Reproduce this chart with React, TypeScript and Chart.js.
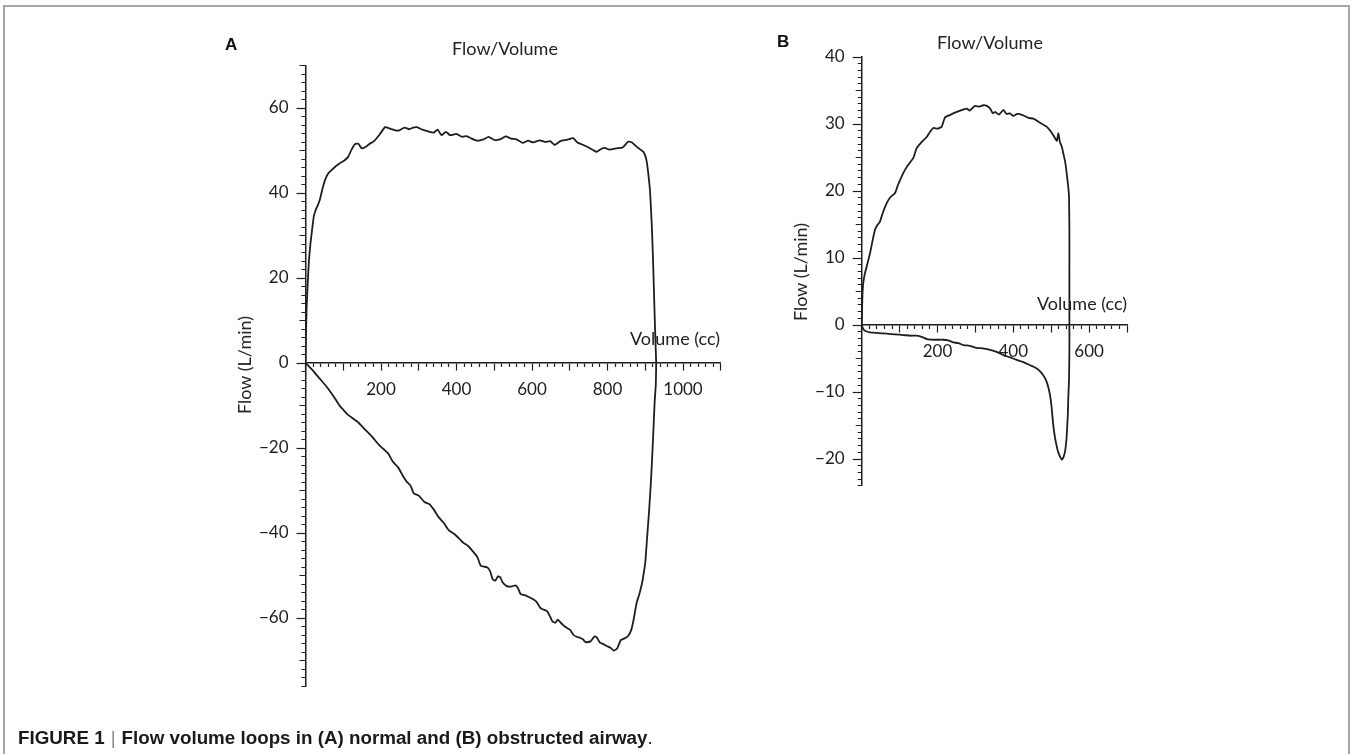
import React, { useEffect, useRef } from "react";
import { Chart, registerables } from "chart.js";

Chart.register(...registerables);

const FONT = "Lato, 'Open Sans', sans-serif";
const INK = "#1e1e1e";

// ---------- Panel A: normal airway ----------
const normalExpVolume = [0, 1, 3, 6, 9, 13, 17, 22, 27, 33, 38, 45, 52, 60, 69, 80, 91, 102, 113, 122, 131, 140, 149, 160, 170, 180, 195, 211, 225, 240, 250, 262, 275, 285, 295, 310, 325, 339, 350, 360, 372, 383, 400, 415, 427, 440, 455, 471, 485, 500, 515, 530, 545, 559, 575, 590, 603, 620, 635, 648, 660, 675, 692, 709, 720, 736, 750, 762, 771, 782, 793, 805, 824, 840, 855, 865, 877, 895, 903, 908, 913, 917, 920, 923, 926, 929];
const normalExpFlow = [0, 6, 13, 19, 24, 28, 31, 34.5, 36, 37.2, 38.4, 41, 43.1, 44.6, 45.4, 46.3, 47, 47.6, 48.5, 50.2, 51.5, 51.6, 50.5, 50.9, 51.6, 52.1, 53.6, 55.5, 55.1, 54.7, 54.8, 55.4, 55.0, 55.4, 55.5, 54.9, 54.5, 54.2, 54.9, 53.6, 54.4, 53.6, 53.9, 53.2, 53.4, 52.8, 52.3, 52.6, 53.2, 52.5, 52.6, 53.3, 52.8, 52.6, 51.8, 52.3, 51.9, 52.4, 52.0, 52.2, 51.3, 52.2, 52.5, 52.9, 51.9, 51.3, 50.7, 50.1, 49.7, 50.3, 50.6, 50.2, 50.5, 50.7, 52.1, 51.9, 50.9, 49.7, 47.8, 44.6, 40, 33, 26, 17, 8, 0];
const normalInspVolume = [929, 928, 925, 922, 919, 915, 910, 905, 900, 895, 891, 884, 877, 870, 863, 854, 845, 835, 826, 817, 808, 798, 790, 780, 772, 766, 755, 742, 735, 728, 718, 710, 701, 690, 682, 675, 668, 662, 654, 647, 640, 630, 622, 612, 603, 590, 580, 570, 563, 557, 545, 533, 522, 516, 510, 503, 496, 489, 482, 472, 464, 455, 445, 430, 418, 408, 395, 380, 366, 352, 340, 328, 315, 300, 287, 278, 268, 259, 245, 231, 220, 207, 194, 175, 157, 140, 125, 111, 100, 90, 74, 56, 37, 18, 0];
const normalInspFlow = [0, -5, -9, -15, -21, -28, -35, -41, -47, -50, -52, -54.5, -56.5, -60, -62.8, -64.3, -64.8, -65.2, -67.1, -67.7, -67.0, -66.6, -66.2, -65.8, -64.6, -64.3, -65.5, -65.7, -65.0, -64.7, -64.4, -64.0, -62.8, -62.2, -61.6, -61.0, -60.4, -61.1, -60.8, -59.5, -58.4, -58.0, -57.6, -56.2, -55.6, -55.0, -54.6, -54.4, -53.0, -52.3, -52.6, -52.5, -51.6, -50.4, -50.2, -51.2, -50.9, -49.0, -48.1, -47.9, -47.7, -45.6, -44.5, -43.0, -42.3, -41.4, -40.3, -39.4, -37.6, -36.2, -34.5, -33.2, -32.7, -31.2, -30.7, -28.8, -27.9, -26.7, -24.5, -23.2, -21.4, -20.3, -19.2, -17.2, -15.6, -14.0, -13.0, -12.1, -11.0, -10.0, -7.8, -5.6, -3.6, -1.6, 0];
const normalXLabels = [200, 400, 600, 800, 1000];
const normalYLabels = [60, 40, 20, 0, -20, -40, -60];

// ---------- Panel B: obstructed airway ----------
const obstructedExpVolume = [0, 1, 2, 4, 8, 13, 18, 22, 28, 35, 41, 48, 56, 66, 76, 88, 95, 101, 110, 119, 128, 136, 145, 158, 172, 180, 189, 200, 211, 220, 235, 251, 265, 277, 285, 299, 310, 321, 330, 339, 346, 352, 362, 374, 382, 391, 400, 410, 426, 440, 453, 470, 488, 500, 510, 515, 519, 523, 528, 532, 537, 541, 545, 547, 548, 548, 548, 548];
const obstructedExpFlow = [0, 2.5, 4.5, 6.2, 7.6, 8.7, 9.8, 10.7, 12.4, 14.2, 14.9, 15.4, 16.8, 18.2, 19.1, 19.7, 20.8, 21.6, 22.7, 23.6, 24.3, 24.9, 26.4, 27.3, 28.1, 28.8, 29.4, 29.3, 29.6, 31, 31.4, 31.8, 32.1, 32.3, 32.0, 32.7, 32.6, 32.8, 32.7, 32.3, 31.6, 31.8, 31.4, 32.1, 31.5, 31.6, 31.2, 31.5, 31.3, 30.9, 30.8, 30.2, 29.6, 28.8, 27.9, 27.5, 28.6, 27.3, 26.6, 25.6, 24.3, 22.6, 20.6, 19.1, 14.2, 8, 4, 0];
const obstructedInspVolume = [548, 548, 547, 545, 544, 541, 537, 532, 528, 523, 518, 515, 510, 506, 503, 501, 497, 492, 486, 479, 470, 462, 452, 444, 425, 409, 390, 374, 356, 339, 320, 303, 285, 268, 255, 242, 228, 215, 195, 172, 160, 145, 128, 110, 88, 66, 44, 22, 10, 4, 0];
const obstructedInspFlow = [0, -4, -8.2, -11, -13.2, -16.5, -18.7, -19.8, -20.1, -19.6, -18.9, -18.2, -16.8, -15.2, -13.5, -12.2, -10.5, -9.2, -8.2, -7.5, -6.9, -6.5, -6.2, -6.0, -5.5, -5.2, -4.8, -4.5, -4.0, -3.7, -3.5, -3.4, -3.1, -3.0, -2.7, -2.6, -2.3, -2.2, -2.2, -2.1, -1.8, -1.6, -1.6, -1.5, -1.4, -1.3, -1.2, -1.1, -0.9, -0.6, 0];
const obstructedXLabels = [200, 400, 600];
const obstructedYLabels = [40, 30, 20, 10, 0, -10, -20];

type Panel = {
  series: { label: string; x: number[]; y: number[] }[];
  xMax: number;
  xStep: number;
  xMajor: number;
  xLabels: number[];
  yMin: number;
  yMax: number;
  yStep: number;
  yMid: number;
  yMajor: number;
  yLabels: number[];
  axisWidth: number;
  padding: { left: number; top: number; right: number; bottom: number };
};

const panelA: Panel = {
  series: [
    { label: "Expiration", x: normalExpVolume, y: normalExpFlow },
    { label: "Inspiration", x: normalInspVolume, y: normalInspFlow },
  ],
  xMax: 1100,
  xStep: 20,
  xMajor: 100,
  xLabels: normalXLabels,
  yMin: -76,
  yMax: 70,
  yStep: 2,
  yMid: 10,
  yMajor: 20,
  yLabels: normalYLabels,
  axisWidth: 155.5,
  padding: { left: 0, top: 65.5, right: 49.25, bottom: 68 },
};

const panelB: Panel = {
  series: [
    { label: "Expiration", x: obstructedExpVolume, y: obstructedExpFlow },
    { label: "Inspiration", x: obstructedInspVolume, y: obstructedInspFlow },
  ],
  xMax: 700,
  xStep: 20,
  xMajor: 100,
  xLabels: obstructedXLabels,
  yMin: -24,
  yMax: 40,
  yStep: 1,
  yMid: 5,
  yMajor: 10,
  yLabels: obstructedYLabels,
  axisWidth: 81.7,
  padding: { left: 0, top: 57, right: 53, bottom: 34.2 },
};

function zip(xs: number[], ys: number[]) {
  return xs.map((x, i) => ({ x, y: ys[i] }));
}

function fmt(v: number) {
  return v < 0 ? "\u2212" + Math.abs(v) : String(v);
}

const Y_TL = 9;
const X_TL = 7;

function buildChart(canvas: HTMLCanvasElement, p: Panel) {
  return new Chart(canvas, {
    type: "scatter",
    data: {
      datasets: p.series.map((s) => ({
        label: s.label,
        data: zip(s.x, s.y),
        showLine: true,
        borderColor: INK,
        borderWidth: 1.8,
        pointRadius: 0,
        tension: 0.15,
        fill: false,
      })),
    },
    options: {
      responsive: false,
      animation: false,
      events: [],
      layout: { padding: p.padding },
      plugins: {
        legend: { display: false },
        tooltip: { enabled: false },
        title: { display: false },
      },
      scales: {
        x: {
          type: "linear",
          position: { y: 0 } as any,
          min: 0,
          max: p.xMax,
          grid: {
            display: true,
            drawOnChartArea: false,
            drawTicks: true,
            tickLength: X_TL,
            tickWidth: 1.2,
            tickColor: INK,
            tickBorderDash: (ctx: any) => {
              const v = ctx.tick ? ctx.tick.value : 0;
              return v % p.xMajor === 0 ? [] : [3.5, 1000];
            },
          } as any,
          border: { display: true, color: INK, width: 1.5 },
          ticks: {
            stepSize: p.xStep,
            autoSkip: false,
            maxRotation: 0,
            padding: 9,
            color: INK,
            font: { family: FONT, size: 17 },
            callback: (v: any) => (p.xLabels.includes(Number(v)) ? fmt(Number(v)) : ""),
          },
        },
        y: {
          type: "linear",
          position: "left",
          min: p.yMin,
          max: p.yMax,
          afterFit: (s: any) => {
            s.width = p.axisWidth;
          },
          grid: {
            display: true,
            drawOnChartArea: false,
            drawTicks: true,
            tickLength: Y_TL,
            tickWidth: 1.2,
            tickColor: INK,
            tickBorderDash: (ctx: any) => {
              const v = ctx.tick ? ctx.tick.value : 0;
              if (v % p.yMajor === 0) return [];
              const L = v % p.yMid === 0 ? 6 : 4;
              return [0, Y_TL - L, L, 1000];
            },
          } as any,
          border: { display: true, color: INK, width: 1.5 },
          ticks: {
            stepSize: p.yStep,
            autoSkip: false,
            padding: 8,
            color: INK,
            font: { family: FONT, size: 17 },
            callback: (v: any) => (p.yLabels.includes(Number(v)) ? fmt(Number(v)) : ""),
          },
        },
      },
    },
  });
}

const textBase: React.CSSProperties = {
  position: "absolute",
  fontFamily: FONT,
  color: "#222",
  whiteSpace: "nowrap",
  lineHeight: 1,
};

function Centered({ x, top, size, children }: { x: number; top: number; size: number; children: React.ReactNode }) {
  return (
    <div style={{ ...textBase, left: x, top, fontSize: size, transform: "translateX(-50%)" }}>{children}</div>
  );
}

function Rotated({ cx, cy, size, children }: { cx: number; cy: number; size: number; children: React.ReactNode }) {
  return (
    <div
      style={{
        ...textBase,
        left: cx,
        top: cy,
        fontSize: size,
        transform: "translate(-50%, -50%) rotate(-90deg)",
      }}
    >
      {children}
    </div>
  );
}

export default function App() {
  const refA = useRef<HTMLCanvasElement>(null);
  const refB = useRef<HTMLCanvasElement>(null);

  useEffect(() => {
    const a = buildChart(refA.current as HTMLCanvasElement, panelA);
    const b = buildChart(refB.current as HTMLCanvasElement, panelB);
    return () => {
      a.destroy();
      b.destroy();
    };
  }, []);

  const letter: React.CSSProperties = {
    position: "absolute",
    fontFamily: "'Liberation Sans', Arial, sans-serif",
    fontWeight: 700,
    fontSize: 17,
    lineHeight: 1,
    color: "#111",
  };

  return (
    <div
      style={{
        position: "absolute",
        left: 0,
        top: 0,
        width: 1353,
        height: 754,
        background: "#fff",
        overflow: "hidden",
      }}
    >
      <div
        style={{
          position: "absolute",
          left: 3,
          top: 5,
          width: 1343,
          height: 900,
          borderTop: "2px solid #a6a6a6",
          borderLeft: "2px solid #a6a6a6",
          borderRight: "2px solid #a6a6a6",
        }}
      />

      <canvas ref={refA} width={620} height={754} style={{ position: "absolute", left: 150, top: 0 }} />
      <canvas ref={refB} width={400} height={520} style={{ position: "absolute", left: 780, top: 0 }} />

      {/* Panel A texts */}
      <div style={{ ...letter, left: 225, top: 36 }}>A</div>
      <Centered x={505} top={39} size={18}>Flow/Volume</Centered>
      <div style={{ ...textBase, left: 630, top: 329, fontSize: 18 }}>Volume (cc)</div>
      <Rotated cx={243.5} cy={365} size={18}>Flow (L/min)</Rotated>

      {/* Panel B texts */}
      <div style={{ ...letter, left: 777, top: 33 }}>B</div>
      <Centered x={990} top={33} size={18}>Flow/Volume</Centered>
      <div style={{ ...textBase, left: 1037, top: 294, fontSize: 18 }}>Volume (cc)</div>
      <Rotated cx={800} cy={271.5} size={18}>Flow (L/min)</Rotated>

      {/* Caption */}
      <div
        style={{
          position: "absolute",
          left: 18,
          top: 728,
          fontFamily: "'Liberation Sans', Arial, sans-serif",
          fontSize: 18.8,
          lineHeight: "19px",
          color: "#1a1a1a",
          whiteSpace: "nowrap",
        }}
      >
        <b>FIGURE 1</b>
        <span style={{ fontWeight: 300, color: "#8a8a8a", margin: "0 6px" }}>|</span>
        <b>Flow volume loops in (A) normal and (B) obstructed airway</b>.
      </div>
    </div>
  );
}
